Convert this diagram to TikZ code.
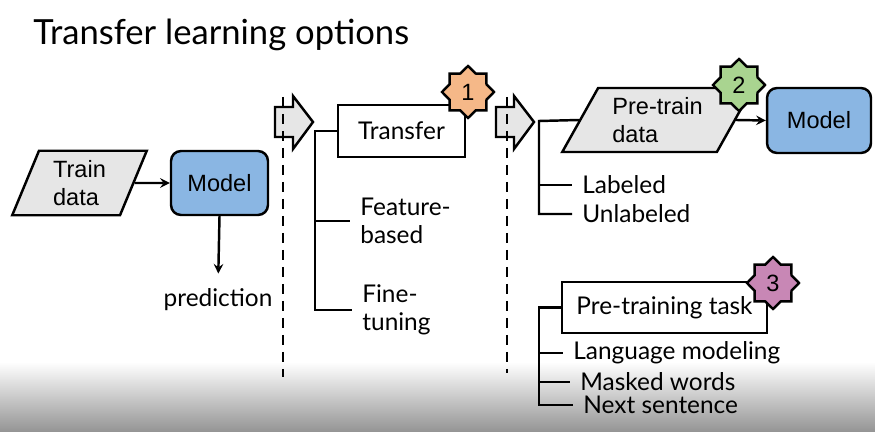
\documentclass[tikz,border=0pt]{standalone}
\usepackage{fontspec}
\setmainfont{Lato}
\newfontfamily\arialfont{Liberation Sans}
\usetikzlibrary{positioning,arrows}
\usetikzlibrary{shapes}
\definecolor{modelblue}{HTML}{8AB6E3}
\definecolor{datagray}{HTML}{E6E6E6}
\definecolor{staro}{HTML}{F5B888}
\definecolor{starg}{HTML}{A9D490}
\definecolor{starp}{HTML}{C887B5}
\newcommand{\lbl}{\fontsize{13.4}{16}\selectfont}
\newcommand{\lbltxt}{\fontsize{13.9}{16}\selectfont}
\tikzset{
ModelBox/.style={draw=black, line width=1.4pt, fill=modelblue, rounded corners=0.2cm,
    font=\arialfont\lbl, inner sep=0pt},
DataBox/.style={draw=black, line width=1.4pt, fill=datagray, trapezium, trapezium stretches=true,
    font=\arialfont\lbl, align=left, inner sep=0pt},
TaskBox/.style={draw=black, line width=1.4pt, fill=white, font=\lbltxt, inner sep=0pt},
Badge/.style={draw=black, line width=1.4pt, star, star points=8, star point ratio=1.3,
    minimum size=1.04cm, inner sep=0pt, font=\arialfont\lbl},
Lbl/.style={font=\lbltxt, align=left, inner sep=0.2cm},
Stem/.style={line width=1.4pt},
Sep/.style={line width=1.6pt, dash pattern=on 0.2cm off 0.14cm},
Block/.style={draw=black, line width=1.4pt, fill=datagray}
}
\begin{document}
\begin{tikzpicture}[>=stealth,x=0.02cm,y=-0.02cm]
\useasboundingbox (0,0) rectangle (875,432);
\shade[top color=white, bottom color=black!42] (0,362) rectangle (875,432);

\node[anchor=base west, inner sep=0pt, font=\fontsize{19.7}{24}\selectfont] (title) at (33,45) {Transfer learning options};

\node[DataBox, trapezium left angle=69, trapezium right angle=111,
    minimum width=2.7cm, minimum height=1.29cm] (train) at (79.5,183) {Train\\data};
\node[ModelBox, minimum width=1.94cm, minimum height=1.28cm] (model) at (219.5,183) {Model};
\node[Lbl, inner sep=0pt] (pred) at (218,300) {prediction};
\draw[->, Stem] (train.east) -- (model.west);
\draw[->, Stem, shorten >=0.3cm] (model.south) -- (pred.north);

\foreach \x in {275,496}
  \draw[Block] (\x,107) -- ++(18,0) -- ++(0,-11) -- ++(20,26) -- ++(-20,27) -- ++(0,-12) -- ++(-18,0) -- cycle;
\draw[Sep] (283,97) -- (283,377);
\draw[Sep] (507,97) -- (507,373);

\node[TaskBox, minimum width=2.54cm, minimum height=1.04cm] (transfer) at (401.5,131) {Transfer\hspace{0.3cm}};
\node[Badge, fill=staro] (b1) at (468,92) {1};
\node[Lbl, anchor=west] (feat) at (350,221) {Feature-\\based};
\node[Lbl, anchor=west] (fine) at (352,310) {Fine-\\tuning};
\coordinate (t1) at (315,131);
\draw[Stem] (transfer.west) -- (t1) |- (fine.west);
\draw[Stem] (t1 |- feat.west) -- (feat.west);

\node[DataBox, fill=datagray, trapezium left angle=59, trapezium right angle=121,
    minimum width=3.82cm, minimum height=1.28cm] (pretrain) at (657.5,120) {Pre-train\\data};
\node[ModelBox, minimum width=2.08cm, minimum height=1.3cm] (model2) at (819,120.5) {Model};
\node[Badge, fill=starg] (b2) at (739,85) {2};
\draw[->, Stem] (pretrain.east) -- (model2.west);
\node[Lbl, anchor=west] (lab) at (572,185) {Labeled};
\node[Lbl, anchor=west] (unlab) at (572,214) {Unlabeled};
\coordinate (t2) at (539,121);
\draw[Stem] (pretrain.west) -- (t2) |- (unlab.west);
\draw[Stem] (t2 |- lab.west) -- (lab.west);

\node[TaskBox, minimum width=4.1cm, minimum height=1.02cm] (task) at (664.5,307.5) {Pre-training task\hspace{0.1cm}};
\node[Badge, fill=starp] (b3) at (773,283) {3};
\node[Lbl, anchor=west, inner sep=0.2cm] (lm) at (563,353) {Language modeling};
\node[Lbl, anchor=west] (mw) at (570,382) {Masked words};
\node[Lbl, anchor=west] (ns) at (573,405) {Next sentence};
\coordinate (t3) at (539,307.5);
\draw[Stem] (task.west) -- (t3) |- (ns.west);
\draw[Stem] (t3 |- lm.west) -- (lm.west);
\draw[Stem] (t3 |- mw.west) -- (mw.west);
\end{tikzpicture}
\end{document}
